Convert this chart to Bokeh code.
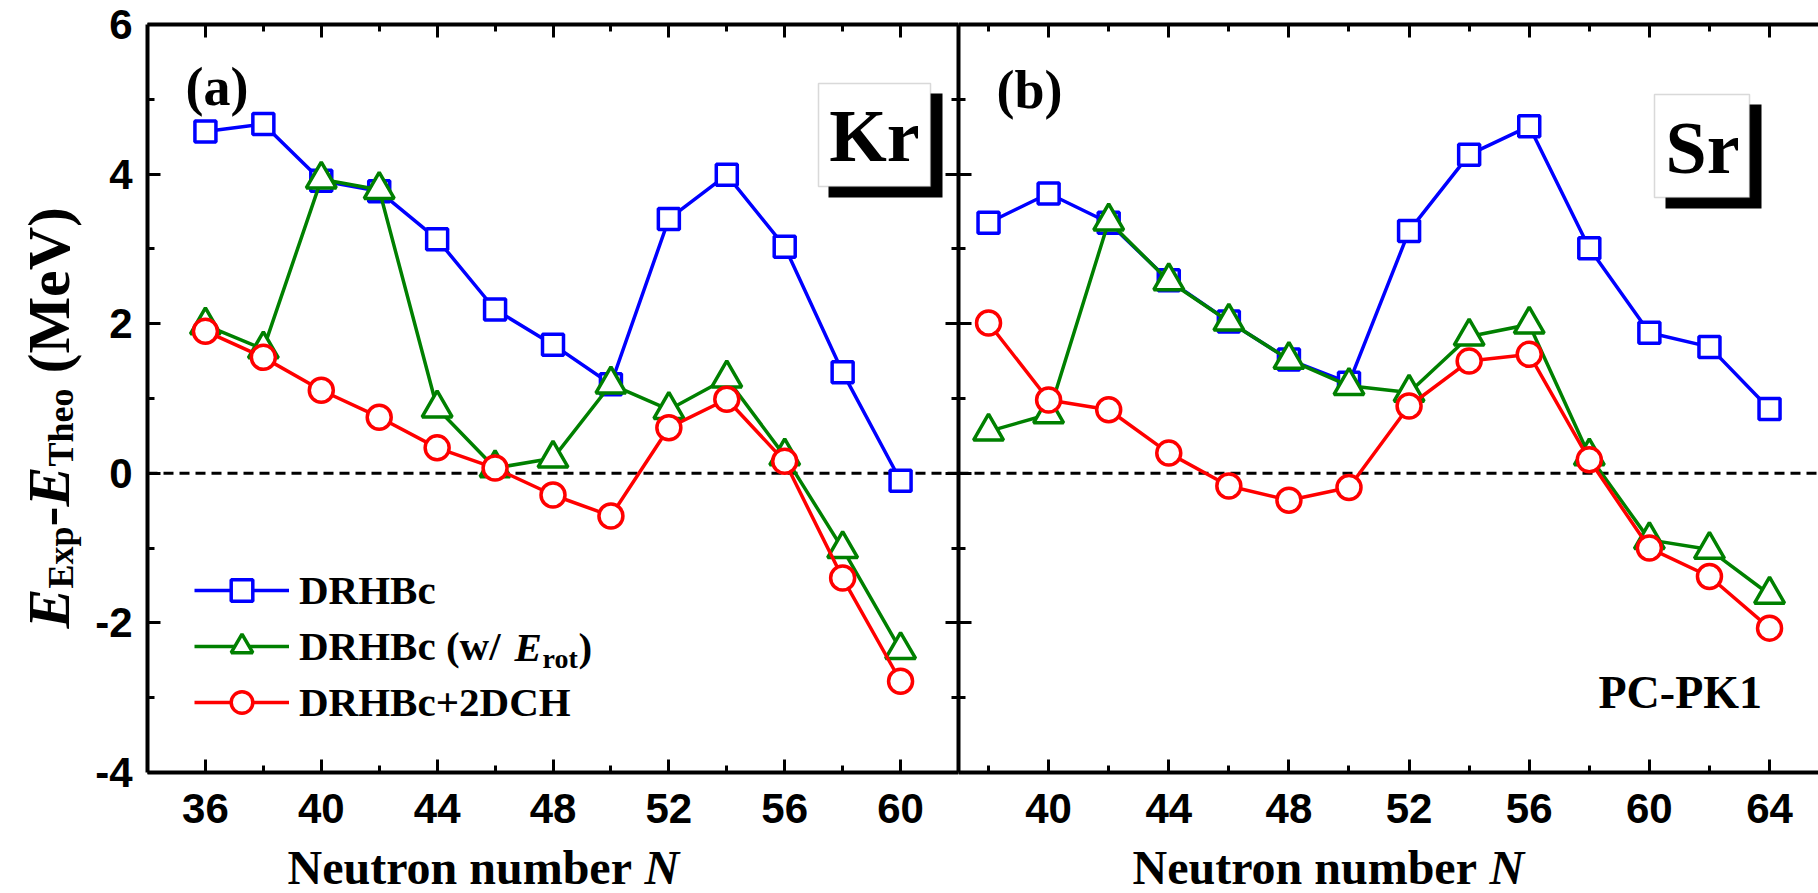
import math
from bokeh.plotting import figure
from bokeh.models import (Range1d, LinearAxis, FixedTicker, Span, Label, BoxAnnotation,
                          Legend, LegendItem, CustomJSTickFormatter)
from bokeh.layouts import row, column
from bokeh.embed import file_html
from bokeh.resources import INLINE

# ---------------- data ----------------
kr_n = [36, 38, 40, 42, 44, 46, 48, 50, 52, 54, 56, 58, 60]
kr_drhbc = [4.57, 4.67, 3.91, 3.77, 3.13, 2.19, 1.72, 1.19, 3.40, 3.99, 3.03, 1.35, -0.10]
kr_rot = [1.98, 1.66, 3.93, 3.79, 0.87, 0.07, 0.20, 1.19, 0.85, 1.27, 0.23, -1.01, -2.36]
kr_2dch = [1.90, 1.55, 1.11, 0.75, 0.34, 0.07, -0.29, -0.57, 0.61, 0.99, 0.16, -1.40, -2.78]

sr_n = [38, 40, 42, 44, 46, 48, 50, 52, 54, 56, 58, 60, 62, 64]
sr_drhbc = [3.35, 3.74, 3.35, 2.58, 2.03, 1.52, 1.21, 3.24, 4.26, 4.64, 3.01, 1.88, 1.69, 0.86]
sr_rot = [0.56, 0.79, 3.37, 2.57, 2.03, 1.52, 1.17, 1.08, 1.83, 1.99, 0.23, -0.89, -1.02, -1.62]
sr_2dch = [2.01, 0.98, 0.85, 0.27, -0.17, -0.36, -0.19, 0.90, 1.50, 1.59, 0.18, -1.00, -1.38, -2.07]

series_labels = ["DRHBc", "DRHBc (w/", "DRHBc+2DCH"]
x_ticks_a = [36, 40, 44, 48, 52, 56, 60]
x_minor_a = [38, 42, 46, 50, 54, 58]
x_ticks_b = [40, 44, 48, 52, 56, 60, 64]
x_minor_b = [38, 42, 46, 50, 54, 58, 62]
y_ticks = [-4, -2, 0, 2, 4, 6]
y_minor = [-3, -1, 1, 3, 5]
y_tick_text = {-4: "-4", -2: "-2", 0: "0", 2: "2", 4: "4", 6: "6"}

BLUE, GREEN, RED = "#0000FF", "#008000", "#FF0000"
SERIF = "Liberation Serif"
SANS = "Liberation Sans"

H_TOP = 840      # height of the row holding the two panels
H_BOT = 53       # height of the row holding the x-axis titles
TOP, BOTTOM = 24, 68
YT_W = 92        # width of the y-title strip


def blank_fig(width, height):
    p = figure(width=width, height=height, x_range=Range1d(0, 1), y_range=Range1d(0, 1),
               output_backend="svg", toolbar_location=None,
               x_axis_location=None, y_axis_location=None,
               min_border_left=0, min_border_right=0,
               min_border_top=0, min_border_bottom=0)
    p.outline_line_color = None
    p.grid.visible = False
    p.background_fill_color = "white"
    p.border_fill_color = "white"
    return p


def make_fig(width, xr, left_border):
    p = figure(width=width, height=H_TOP, x_range=Range1d(*xr), y_range=Range1d(-4, 6),
               output_backend="svg", toolbar_location=None,
               x_axis_location=None, y_axis_location=None,
               min_border_left=left_border, min_border_right=0,
               min_border_top=TOP, min_border_bottom=BOTTOM)
    p.outline_line_color = None
    p.grid.visible = False
    p.background_fill_color = "white"
    p.border_fill_color = "white"
    return p


def add_axis(p, side, ticks, minor, labels, standoff=21):
    ax = LinearAxis(ticker=FixedTicker(ticks=ticks, minor_ticks=minor))
    ax.axis_line_width = 4
    ax.axis_line_color = "black"
    ax.major_tick_in = 13
    ax.major_tick_out = 0
    ax.minor_tick_in = 7
    ax.minor_tick_out = 0
    ax.major_tick_line_width = 3
    ax.minor_tick_line_width = 3
    ax.major_tick_line_color = "black"
    ax.minor_tick_line_color = "black"
    if labels:
        ax.major_label_text_font = SANS
        ax.major_label_text_font_style = "bold"
        ax.major_label_text_font_size = "42px"
        ax.major_label_text_color = "black"
        ax.major_label_standoff = standoff
    else:
        ax.formatter = CustomJSTickFormatter(code="return ''")
        ax.major_label_text_font_size = "0px"
        ax.major_label_standoff = 0
    p.add_layout(ax, side)
    return ax


def draw_series(p, n, d1, d2, d3):
    l1 = p.line(n, d1, line_color=BLUE, line_width=3.5)
    s1 = p.scatter(n, d1, marker="square", size=21, line_color=BLUE, fill_color="white", line_width=3.5)
    l2 = p.line(n, d2, line_color=GREEN, line_width=3.5)
    s2 = p.scatter(n, d2, marker="triangle", size=30, line_color=GREEN, fill_color="white", line_width=3.5)
    l3 = p.line(n, d3, line_color=RED, line_width=3.5)
    s3 = p.scatter(n, d3, marker="circle", size=24, line_color=RED, fill_color="white", line_width=3.5)
    return [(l1, s1), (l2, s2), (l3, s3)]


def zero_line(p):
    sp = Span(location=0, dimension="width", line_color="black", line_width=3, line_dash="10 6")
    sp.level = "underlay"
    p.add_layout(sp)


def label(p, x, y, text, size, italic=False, align="left", angle=0.0):
    lb = Label(x=x, y=y, x_units="screen", y_units="screen", text=text,
               text_font=SERIF, text_font_style="bold italic" if italic else "bold",
               text_font_size=size, text_color="black", text_align=align,
               text_baseline="middle", angle=angle)
    p.add_layout(lb)
    return lb


def element_box(p, box, shadow, text, tx, ty):
    l, r, t, b = shadow
    p.add_layout(BoxAnnotation(left=l, right=r, top=t, bottom=b,
                               left_units="screen", right_units="screen",
                               top_units="screen", bottom_units="screen",
                               fill_color="black", fill_alpha=1, line_color=None))
    l, r, t, b = box
    p.add_layout(BoxAnnotation(left=l, right=r, top=t, bottom=b,
                               left_units="screen", right_units="screen",
                               top_units="screen", bottom_units="screen",
                               fill_color="white", fill_alpha=1, line_color="#808080",
                               line_width=1.5))
    label(p, tx, ty, text, "74px", align="center")


# ---------------- panel (a): Kr ----------------
pa = make_fig(866, (34, 62), 53)
ya = add_axis(pa, "left", y_ticks, y_minor, True, standoff=15)
ya.major_label_overrides = y_tick_text
add_axis(pa, "right", y_ticks, y_minor, False)
add_axis(pa, "below", x_ticks_a, x_minor_a, True)
add_axis(pa, "above", x_ticks_a, x_minor_a, False)
zero_line(pa)
ra = draw_series(pa, kr_n, kr_drhbc, kr_rot, kr_2dch)

legend = Legend(items=[LegendItem(label=lab, renderers=list(rr)) for lab, rr in zip(series_labels, ra)],
                location=(47, 43), orientation="vertical",
                glyph_width=95, glyph_height=54, spacing=2, padding=0, margin=0,
                label_standoff=10, border_line_color=None, background_fill_alpha=0,
                label_text_font=SERIF, label_text_font_style="bold",
                label_text_font_size="41px", label_text_color="black")
pa.add_layout(legend)
# rest of the second legend entry: E_rot)
label(pa, 367, 126, "E", "41px", italic=True)
label(pa, 395, 114, "rot", "28px")
label(pa, 431, 126, ")", "41px")

label(pa, 38, 686, "(a)", "54px")
element_box(pa, (671, 783, 689, 586), (681, 795, 679, 575), "Kr", 727, 637)

# ---------------- panel (b): Sr ----------------
pb = make_fig(860, (37, 65.63), 0)
add_axis(pb, "left", y_ticks, y_minor, False)
add_axis(pb, "below", x_ticks_b, x_minor_b, True)
add_axis(pb, "above", x_ticks_b, x_minor_b, False)
zero_line(pb)
draw_series(pb, sr_n, sr_drhbc, sr_rot, sr_2dch)

label(pb, 38, 683, "(b)", "54px")
element_box(pb, (696, 791, 678, 575), (707, 803, 668, 564), "Sr", 744, 625)
label(pb, 640, 80, "PC-PK1", "46px")

# ---------------- y-axis title strip (frame aligned with the panels) ----------------
yt = blank_fig(YT_W, H_TOP)
A = math.pi / 2
label(yt, 48, 144, "E", "60px", italic=True, angle=A)
label(yt, 60, 184, "Exp", "36px", angle=A)
label(yt, 48, 246, "-", "60px", angle=A)
label(yt, 48, 266, "E", "60px", italic=True, angle=A)
label(yt, 60, 306, "Theo", "36px", angle=A)
label(yt, 48, 399, "(MeV)", "60px", angle=A)

# ---------------- x-axis title strips ----------------
xa = blank_fig(YT_W + 866, H_BOT)
label(xa, 287, 26, "Neutron number", "48px")
label(xa, 644, 26, "N", "48px", italic=True)

xb = blank_fig(860, H_BOT)
label(xb, 174, 26, "Neutron number", "48px")
label(xb, 531, 26, "N", "48px", italic=True)

layout = column(row(yt, pa, pb), row(xa, xb))
open("out.html", "w").write(file_html(layout, INLINE))
